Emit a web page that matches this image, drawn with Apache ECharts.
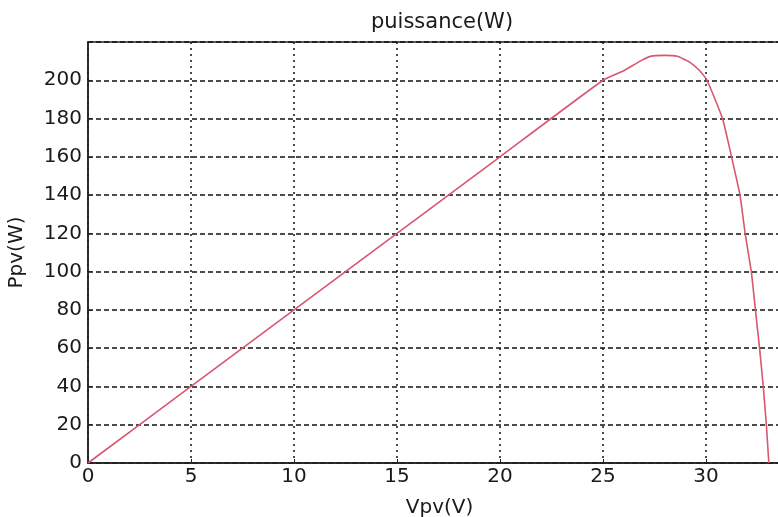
<!DOCTYPE html>
<html>
<head>
<meta charset="utf-8">
<title>puissance(W)</title>
<script src="https://cdn.jsdelivr.net/npm/echarts@6/dist/echarts.min.js"></script>
<style>
  html, body { margin: 0; padding: 0; background: #fff; }
  #main { width: 778px; height: 517px; }
</style>
</head>
<body>
<div id="main"></div>
<script>
// tension Vpv (V) et puissance Ppv (W)
var vpv = [0, 5, 10, 15, 20, 25, 26, 26.8, 27.3, 28, 28.6, 29.2, 29.7, 30.05, 30.8, 31.24, 31.65, 31.9, 32.2, 32.4, 32.6, 32.78, 32.93, 33.05];
var ppv = [0, 40, 80, 120, 160, 200, 205, 210, 212.5, 213, 212.5, 209.5, 205, 200, 180, 160, 140, 120, 100, 80, 60, 40, 20, 0];
var xTicks = [0, 5, 10, 15, 20, 25, 30];
var yTicks = [0, 20, 40, 60, 80, 100, 120, 140, 160, 180, 200];

var chart = echarts.init(document.getElementById('main'));
var font = '"DejaVu Sans", "Liberation Sans", Arial, sans-serif';
var ink = '#1a1a1a';

var pts = [];
for (var i = 0; i < vpv.length; i++) {
  pts.push([vpv[i], ppv[i]]);
}

var option = {
  backgroundColor: '#fff',
  animation: false,
  title: {
    text: 'puissance(W)',
    left: 437,
    top: 7,
    textAlign: 'center',
    textStyle: { fontFamily: font, fontSize: 21, fontWeight: 'normal', color: ink }
  },
  grid: {
    left: 88, top: 42, height: 421, width: 721,
    outerBoundsMode: 'none',
    containLabel: false,
    show: true, borderColor: '#222', borderWidth: 1.5
  },
  xAxis: {
    type: 'value',
    min: 0, max: 35, interval: 5,
    name: 'Vpv(V)',
    nameLocation: 'middle',
    nameGap: 35,
    nameTextStyle: { fontFamily: font, fontSize: 20, color: ink, padding: [0, 18, 0, 0] },
    axisLine: { show: true, lineStyle: { color: '#222', width: 1.5 } },
    axisTick: { show: true, inside: true, length: 4, lineStyle: { color: '#222' } },
    axisLabel: {
      fontFamily: font, fontSize: 20, color: ink, margin: 4,
      formatter: function (v) { return xTicks.indexOf(v) >= 0 ? String(v) : ''; }
    },
    splitLine: { show: true, lineStyle: { color: '#111', width: 1.5, type: [2, 4] } }
  },
  yAxis: {
    type: 'value',
    min: 0, max: 220, interval: 20,
    name: 'Ppv(W)',
    nameLocation: 'middle',
    nameGap: 61,
    nameTextStyle: { fontFamily: font, fontSize: 20, color: ink },
    axisLine: { show: true, lineStyle: { color: '#222', width: 1.5 } },
    axisTick: { show: true, inside: true, length: 4, lineStyle: { color: '#222' } },
    axisLabel: {
      fontFamily: font, fontSize: 20, color: ink, margin: 6,
      formatter: function (v) { return yTicks.indexOf(v) >= 0 ? String(v) : ''; }
    },
    splitLine: { show: true, lineStyle: { color: '#111', width: 1.5, type: [5, 3] } }
  },
  series: [{
    type: 'line',
    data: pts,
    showSymbol: false,
    smooth: 0.15,
    lineStyle: { color: '#d9566f', width: 1.6 },
    clip: true
  }]
};

chart.setOption(option);
</script>
</body>
</html>
